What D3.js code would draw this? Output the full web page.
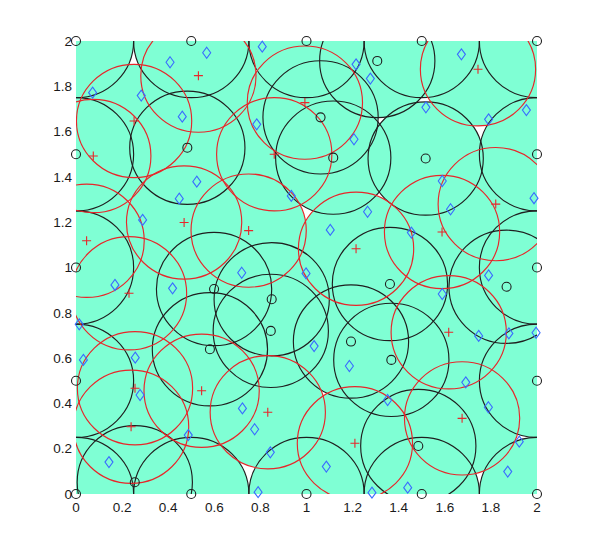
<!DOCTYPE html>
<html lang="en">
<head>
  <meta charset="utf-8" />
  <title>Coverage Chart</title>
  <script src="https://d3js.org/d3.v7.min.js"></script>
  <style>
    body {
      margin: 0;
      padding: 0;
      background: #ffffff;
    }
    .tick-label {
      font-family: "Liberation Sans", Arial, sans-serif;
      font-size: 13.5px;
      fill: #1a1a1a;
    }
  </style>
</head>
<body>
<div id="chart"></div>
<script>
/*
  =========================
   1) DATA
  =========================
*/
// sensor radius (data units)
const radius = 0.25;

// black sensors (perimeter + interior)
const blackX = [0, 0.5, 1, 1.5, 2, 2, 2, 2, 2, 1.5, 1, 0.5, 0, 0, 0, 0,
  0.255, 0.483, 0.599, 0.849, 0.845, 0.581, 1.061, 1.116, 1.307, 1.517, 1.362, 1.868, 1.193, 1.368, 1.485];
const blackY = [0, 0, 0, 0, 0, 0.5, 1, 1.5, 2, 2, 2, 2, 2, 1.5, 1, 0.5,
  0.052, 1.529, 0.905, 0.860, 0.720, 0.639, 1.663, 1.485, 1.912, 1.481, 0.927, 0.915, 0.673, 0.592, 0.212];

// red sensors
const redX = [0.531, 0.252, 0.075, 0.860, 0.469, 0.749, 0.046, 0.993, 1.744, 1.821,
  1.588, 1.215, 0.230, 0.256, 0.545, 0.832, 0.239, 1.617, 1.675, 1.210];
const redY = [1.847, 1.647, 1.492, 1.500, 1.199, 1.163, 1.118, 1.728, 1.875, 1.280,
  1.157, 1.083, 0.886, 0.467, 0.456, 0.361, 0.297, 0.714, 0.334, 0.224];

// blue targets
const blueX = [0.567, 0.408, 0.808, 0.072, 0.283, 0.461, 0.784, 0.524, 0.448, 0.934, 0.289,
  1.672, 1.215, 1.277, 1.518, 1.954, 1.790, 1.206, 1.589, 1.987, 1.625, 1.265, 1.103, 1.455,
  0.169, 0.419, 0.719, 0.014, 0.032, 0.257, 0.278, 0.722, 0.487, 0.775, 0.843, 0.143, 0.790,
  0.998, 1.790, 1.589, 1.747, 1.878, 1.996, 1.033, 1.186, 1.691, 1.352, 1.789, 1.923, 1.086, 1.873, 1.439, 1.284];
const blueY = [1.948, 1.906, 1.975, 1.772, 1.759, 1.666, 1.632, 1.379, 1.304, 1.316, 1.210,
  1.941, 1.897, 1.834, 1.707, 1.695, 1.654, 1.566, 1.382, 1.306, 1.257, 1.246, 1.166, 1.154,
  0.923, 0.908, 0.977, 0.749, 0.592, 0.602, 0.437, 0.378, 0.260, 0.286, 0.184, 0.141, 0.008,
  0.974, 0.965, 0.883, 0.698, 0.709, 0.712, 0.653, 0.565, 0.493, 0.415, 0.383, 0.231, 0.121, 0.099, 0.028, 0.006];

// tick labels
const tickValues = [0, 0.2, 0.4, 0.6, 0.8, 1, 1.2, 1.4, 1.6, 1.8, 2];
const tickLabels = ["0", "0.2", "0.4", "0.6", "0.8", "1", "1.2", "1.4", "1.6", "1.8", "2"];

const black = blackX.map((x, i) => ({ x: x, y: blackY[i] }));
const red = redX.map((x, i) => ({ x: x, y: redY[i] }));
const blue = blueX.map((x, i) => ({ x: x, y: blueY[i] }));

/*
  =========================
   2) SETUP
  =========================
*/
const W = 592, H = 556;
const x = d3.scaleLinear().domain([0, 2]).range([76, 537]);
const y = d3.scaleLinear().domain([0, 2]).range([494, 41]);
const rx = x(radius) - x(0);
const ry = y(0) - y(radius);

const svg = d3.select("#chart").append("svg")
  .attr("width", W)
  .attr("height", H);

svg.append("defs").append("clipPath")
  .attr("id", "plotClip")
  .append("rect")
    .attr("x", x(0))
    .attr("y", y(2))
    .attr("width", x(2) - x(0))
    .attr("height", y(0) - y(2));

const plot = svg.append("g").attr("clip-path", "url(#plotClip)");

/*
  =========================
   3) COVERAGE FILL + CIRCLES
  =========================
*/
const allSensors = black.concat(red);

plot.selectAll(".cover")
  .data(allSensors)
  .enter()
  .append("ellipse")
    .attr("cx", d => x(d.x))
    .attr("cy", d => y(d.y))
    .attr("rx", rx)
    .attr("ry", ry)
    .attr("fill", "#7fffd4");

plot.selectAll(".ring-black")
  .data(black)
  .enter()
  .append("ellipse")
    .attr("cx", d => x(d.x))
    .attr("cy", d => y(d.y))
    .attr("rx", rx)
    .attr("ry", ry)
    .attr("fill", "none")
    .attr("stroke", "#1f1f1f")
    .attr("stroke-width", 1.15);

plot.selectAll(".ring-red")
  .data(red)
  .enter()
  .append("ellipse")
    .attr("cx", d => x(d.x))
    .attr("cy", d => y(d.y))
    .attr("rx", rx)
    .attr("ry", ry)
    .attr("fill", "none")
    .attr("stroke", "#e8262a")
    .attr("stroke-width", 1.15);

/*
  =========================
   4) MARKERS
  =========================
*/
svg.selectAll(".mk-black")
  .data(black)
  .enter()
  .append("circle")
    .attr("cx", d => x(d.x))
    .attr("cy", d => y(d.y))
    .attr("r", 4.5)
    .attr("fill", "none")
    .attr("stroke", "#1f1f1f")
    .attr("stroke-width", 1.1);

svg.selectAll(".mk-red")
  .data(red)
  .enter()
  .append("path")
    .attr("d", d => {
      const cx = x(d.x), cy = y(d.y);
      return `M${cx - 4.5},${cy}H${cx + 4.5}M${cx},${cy - 4.5}V${cy + 4.5}`;
    })
    .attr("stroke", "#e8262a")
    .attr("stroke-width", 1.1);

svg.selectAll(".mk-blue")
  .data(blue)
  .enter()
  .append("path")
    .attr("d", d => {
      const cx = x(d.x), cy = y(d.y);
      return `M${cx},${cy - 5.5}L${cx + 4},${cy}L${cx},${cy + 5.5}L${cx - 4},${cy}Z`;
    })
    .attr("fill", "none")
    .attr("stroke", "#3a6cff")
    .attr("stroke-width", 1.1);

/*
  =========================
   5) TICK LABELS
  =========================
*/
svg.selectAll(".xlab")
  .data(tickValues)
  .enter()
  .append("text")
    .attr("class", "tick-label")
    .attr("x", d => x(d))
    .attr("y", 512)
    .attr("text-anchor", "middle")
    .text((d, i) => tickLabels[i]);

svg.selectAll(".ylab")
  .data(tickValues)
  .enter()
  .append("text")
    .attr("class", "tick-label")
    .attr("x", 72)
    .attr("y", d => y(d))
    .attr("dy", "0.35em")
    .attr("text-anchor", "end")
    .text((d, i) => tickLabels[i]);
</script>
</body>
</html>
